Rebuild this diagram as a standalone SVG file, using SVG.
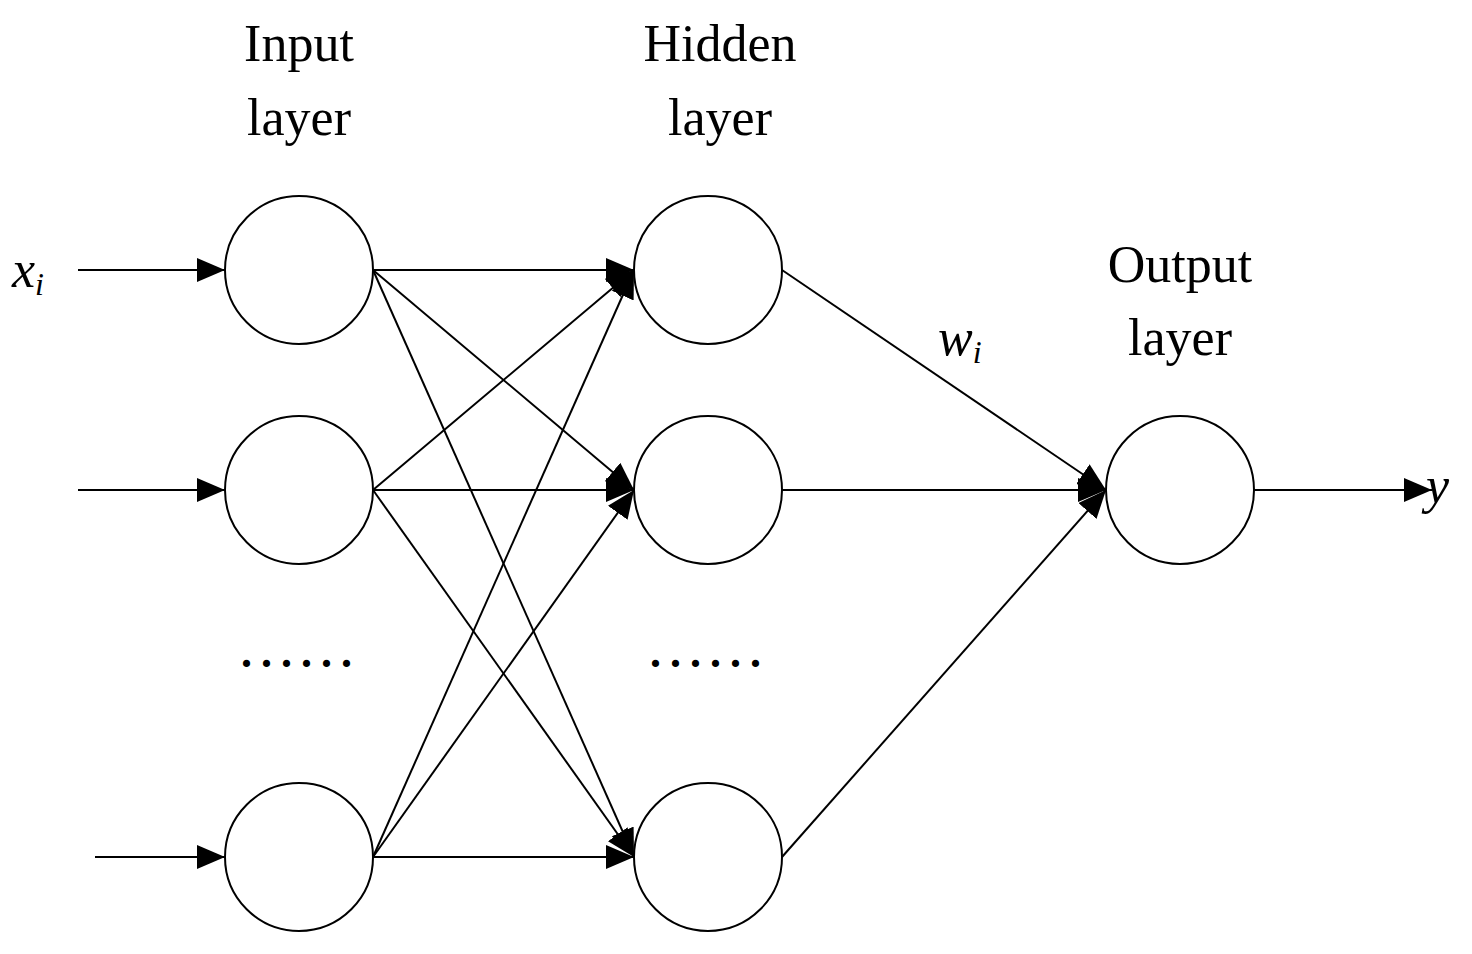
<svg xmlns="http://www.w3.org/2000/svg" width="1472" height="954" viewBox="0 0 1472 954">
<style>
.n{fill:#fff;stroke:#000;stroke-width:2}
.c{stroke:#000;stroke-width:2;fill:none;marker-end:url(#a)}
.t{font-family:"Liberation Serif",serif;font-size:52px;text-anchor:middle}
.i{font-family:"Liberation Serif",serif;font-style:italic}
.d{font-family:"Liberation Serif",serif;font-weight:bold;font-size:44px;letter-spacing:9px}
</style>
<defs><marker id="a" markerUnits="userSpaceOnUse" markerWidth="30" markerHeight="24" refX="28" refY="12" orient="auto"><path d="M0,0L28,12L0,24z" fill="#000"/></marker></defs>
<rect width="1472" height="954" fill="#fff"/>
<g id="connectors">
<line class="c" x1="78" y1="270" x2="225" y2="270"/>
<line class="c" x1="78" y1="490" x2="225" y2="490"/>
<line class="c" x1="95" y1="857" x2="225" y2="857"/>
<line class="c" x1="373" y1="270" x2="634" y2="270"/>
<line class="c" x1="373" y1="270" x2="634" y2="490"/>
<line class="c" x1="373" y1="270" x2="634" y2="857"/>
<line class="c" x1="373" y1="490" x2="634" y2="270"/>
<line class="c" x1="373" y1="490" x2="634" y2="490"/>
<line class="c" x1="373" y1="490" x2="634" y2="857"/>
<line class="c" x1="373" y1="857" x2="634" y2="270"/>
<line class="c" x1="373" y1="857" x2="634" y2="490"/>
<line class="c" x1="373" y1="857" x2="634" y2="857"/>
<line class="c" x1="782" y1="270" x2="1106" y2="490"/>
<line class="c" x1="782" y1="490" x2="1106" y2="490"/>
<line class="c" x1="782" y1="857" x2="1106" y2="490"/>
<line class="c" x1="1254" y1="490" x2="1432" y2="490"/>
</g>
<g id="in1"><circle class="n" cx="299" cy="270" r="74"/></g>
<g id="in2"><circle class="n" cx="299" cy="490" r="74"/></g>
<g id="in3"><circle class="n" cx="299" cy="857" r="74"/></g>
<g id="h1"><circle class="n" cx="708" cy="270" r="74"/></g>
<g id="h2"><circle class="n" cx="708" cy="490" r="74"/></g>
<g id="h3"><circle class="n" cx="708" cy="857" r="74"/></g>
<g id="out"><circle class="n" cx="1180" cy="490" r="74"/></g>
<g id="labels">
<text class="t" x="299" y="61">Input</text>
<text class="t" x="299" y="135">layer</text>
<text class="t" x="720" y="61">Hidden</text>
<text class="t" x="720" y="135">layer</text>
<text class="t" x="1180" y="282">Output</text>
<text class="t" x="1180" y="355">layer</text>
<text class="i" x="12" y="287" font-size="52">x<tspan font-size="32" dy="8">i</tspan></text>
<text class="i" x="938" y="355" font-size="52">w<tspan font-size="32" dy="8">i</tspan></text>
<text class="i" x="1426" y="503" font-size="52">y</text>
<text class="d" x="241" y="667">......</text>
<text class="d" x="650" y="667">......</text>
</g>
</svg>
